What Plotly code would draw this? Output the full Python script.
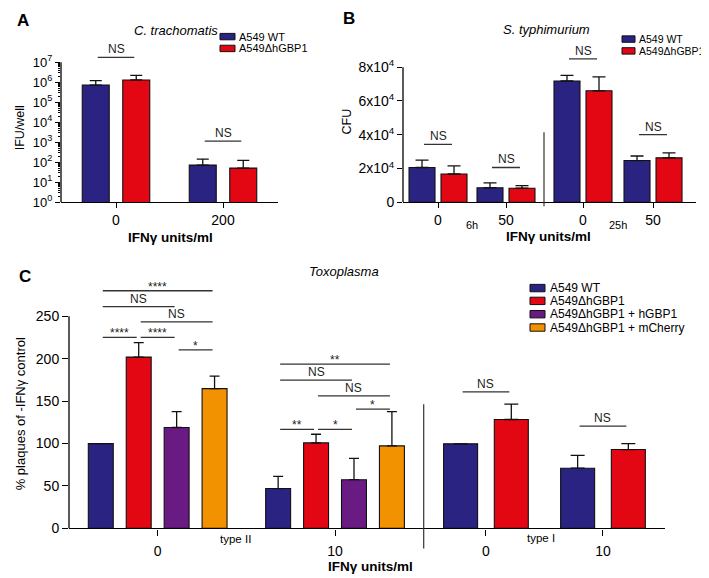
import math
import plotly.graph_objects as go

W, H = 709, 578
FONT = "Liberation Sans, Arial, Helvetica, sans-serif"

# ---------------- data ----------------
series_names = ["A549 WT", "A549ΔhGBP1", "A549ΔhGBP1 + hGBP1", "A549ΔhGBP1 + mCherry"]
series_colors = ["#2B2382", "#E30613", "#6A1A83", "#F39200"]

# Panel A: C. trachomatis (IFU/well, log scale)
A_categories = ["0", "200"]
A_wt = [7.2e5, 72]
A_wt_sem = [4.8e5, 70]
A_ko = [1.3e6, 51]
A_ko_sem = [9.0e5, 74]
A_tickvals = [1, 10, 100, 1e3, 1e4, 1e5, 1e6, 1e7]
A_ticktext = ["10<sup>0</sup>", "10<sup>1</sup>", "10<sup>2</sup>", "10<sup>3</sup>",
              "10<sup>4</sup>", "10<sup>5</sup>", "10<sup>6</sup>", "10<sup>7</sup>"]
# (category index, bar i, bar j, height, label)
A_brackets = [(0, 0, 1, 1.76e7, "NS"), (1, 0, 1, 1.14e3, "NS")]

# Panel B: S. typhimurium (CFU)
B_categories = ["0", "50"]
B_wt_6h = [20600, 8600]
B_wt_6h_sem = [4300, 2900]
B_ko_6h = [16750, 8350]
B_ko_6h_sem = [4850, 1550]
B_wt_25h = [71800, 24700]
B_wt_25h_sem = [3300, 2700]
B_ko_25h = [66000, 26300]
B_ko_25h_sem = [8200, 2900]
B_tickvals = [0, 20000, 40000, 60000, 80000]
B_ticktext = ["0", "2x10<sup>4</sup>", "4x10<sup>4</sup>", "6x10<sup>4</sup>", "8x10<sup>4</sup>"]
B_brackets_6h = [(0, 0, 1, 34300, "NS"), (1, 0, 1, 20600, "NS")]
B_brackets_25h = [(0, 0, 1, 84850, "NS"), (1, 0, 1, 40100, "NS")]

# Panel C: Toxoplasma (% plaques of -IFNγ control)
C_categories = ["0", "10"]
C2_wt = [100, 47]
C2_wt_sem = [0, 14.3]
C2_ko = [202, 100.8]
C2_ko_sem = [17, 10.2]
C2_hgbp1 = [119, 57.4]
C2_hgbp1_sem = [18.7, 25.2]
C2_mcherry = [164.8, 97.3]
C2_mcherry_sem = [14.7, 40.4]
C1_wt = [99.7, 71]
C1_wt_sem = [0, 15]
C1_ko = [128.4, 93]
C1_ko_sem = [18.1, 7]
C_tickvals = [0, 50, 100, 150, 200, 250]
C_brackets_type2 = [
    (0, 0, 3, 280.2, "****"), (0, 0, 2, 261.6, "NS"), (0, 1, 3, 243.5, "NS"),
    (0, 0, 1, 225.2, "****"), (0, 1, 2, 225.2, "****"), (0, 2, 3, 210.5, "*"),
    (1, 0, 3, 193.8, "**"), (1, 0, 2, 174.9, "NS"), (1, 1, 3, 156.3, "NS"),
    (1, 2, 3, 140.7, "*"), (1, 0, 1, 116.7, "**"), (1, 1, 2, 116.7, "*"),
]
C_brackets_type1 = [(0, 0, 1, 160.9, "NS"), (1, 0, 1, 120.6, "NS")]

# ---------------- helpers ----------------
def px_x(p):
    return p / W


def px_y(p):
    return 1 - p / H


def geom(n, cat_px, bar_px, pitch_px):
    offs = []
    for k in range(n):
        c = (k - (n - 1) / 2) * pitch_px
        offs.append((c - bar_px / 2) / cat_px)
    return offs, bar_px / cat_px


fig = go.Figure()


def add_bars(cats, vals_list, sems_list, colors, xa, ya, cat_px, bar_px, pitch_px, cap):
    offs, w = geom(len(vals_list), cat_px, bar_px, pitch_px)
    for k, (vals, sems, col) in enumerate(zip(vals_list, sems_list, colors)):
        fig.add_trace(go.Bar(
            x=cats, y=vals, width=w, offset=offs[k],
            marker=dict(color=col, line=dict(color="#111111", width=1.1)),
            error_y=dict(type="data", array=sems, arrayminus=[0] * len(sems), symmetric=False,
                         color="#111111", thickness=1.3, width=cap),
            xaxis=xa, yaxis=ya, showlegend=False, hoverinfo="skip",
        ))


def add_brackets(brackets, n, xa, ya, cat_px, bar_px, pitch_px, log=False):
    offs, w = geom(n, cat_px, bar_px, pitch_px)
    centers = [o + w / 2 for o in offs]
    shrink = 2.0 / cat_px
    for g, i, j, yv, label in brackets:
        x0 = g + centers[i] + shrink
        x1 = g + centers[j] - shrink
        fig.add_shape(type="line", xref=xa, yref=ya, x0=x0, x1=x1, y0=yv, y1=yv,
                      line=dict(color="#333333", width=1.3))
        ay = math.log10(yv) if log else yv
        star = label.startswith("*")
        fig.add_annotation(xref=xa, yref=ya, x=(x0 + x1) / 2, y=ay, text=label,
                           showarrow=False, yanchor="bottom", xanchor="center",
                           yshift=-5 if star else -1,
                           font=dict(size=12, color="#222222", family=FONT))


def ann_px(text, x, y, size, bold=False, italic=False, angle=0, xanchor="center"):
    if bold:
        text = "<b>" + text + "</b>"
    if italic:
        text = "<i>" + text + "</i>"
    fig.add_annotation(xref="paper", yref="paper", x=px_x(x), y=px_y(y), text=text,
                       showarrow=False, xanchor=xanchor, yanchor="middle", textangle=angle,
                       font=dict(size=size, color="black", family=FONT))


def legend_px(names, colors, x_box, x_text, rows, box_w, box_h, size):
    for name, col, yc in zip(names, colors, rows):
        fig.add_shape(type="rect", xref="paper", yref="paper",
                      x0=px_x(x_box), x1=px_x(x_box + box_w),
                      y0=px_y(yc + box_h / 2), y1=px_y(yc - box_h / 2),
                      fillcolor=col, line=dict(color="#111111", width=1))
        ann_px(name, x_text, yc, size, xanchor="left")


# ---------------- Panel A ----------------
add_bars(A_categories, [A_wt, A_ko], [A_wt_sem, A_ko_sem], series_colors[:2],
         "x", "y", 107, 27, 40.5, 6)
add_brackets(A_brackets, 2, "x", "y", 107, 27, 40.5, log=True)

# ---------------- Panel B ----------------
add_bars(B_categories, [B_wt_6h, B_ko_6h], [B_wt_6h_sem, B_ko_6h_sem], series_colors[:2],
         "x2", "y2", 68, 26, 32, 6.5)
add_bars(B_categories, [B_wt_25h, B_ko_25h], [B_wt_25h_sem, B_ko_25h_sem], series_colors[:2],
         "x3", "y2", 70, 26, 32, 6.5)
add_brackets(B_brackets_6h, 2, "x2", "y2", 68, 26, 32)
add_brackets(B_brackets_25h, 2, "x3", "y2", 70, 26, 32)

# ---------------- Panel C ----------------
add_bars(C_categories, [C2_wt, C2_ko, C2_hgbp1, C2_mcherry],
         [C2_wt_sem, C2_ko_sem, C2_hgbp1_sem, C2_mcherry_sem], series_colors,
         "x4", "y3", 177.7, 25, 38, 5)
add_bars(C_categories, [C1_wt, C1_ko], [C1_wt_sem, C1_ko_sem], series_colors[:2],
         "x5", "y3", 117, 34, 50.7, 7)
add_brackets(C_brackets_type2, 4, "x4", "y3", 177.7, 25, 38)
add_brackets(C_brackets_type1, 2, "x5", "y3", 117, 34, 50.7)

# ---------------- axes ----------------
xcommon = dict(type="category", showline=True, linecolor="black", linewidth=1.3,
               ticks="outside", ticklen=5, tickwidth=1.3, tickcolor="black",
               showgrid=False, zeroline=False, fixedrange=True,
               tickfont=dict(size=14, family=FONT, color="black"))
ycommon = dict(showline=False, ticks="outside", ticklen=5, tickwidth=1.3, tickcolor="black",
               showgrid=False, zeroline=False, fixedrange=True,
               tickfont=dict(size=14, family=FONT, color="black"))

minor_vals = [m * 10 ** k for k in range(7) for m in range(2, 10)]

fig.update_layout(
    width=W, height=H, margin=dict(l=0, r=0, t=0, b=0),
    paper_bgcolor="white", plot_bgcolor="rgba(0,0,0,0)",
    barmode="overlay", showlegend=False, font=dict(family=FONT, color="black"),
    xaxis=dict(xcommon, domain=[px_x(53), px_x(270)], range=[-0.514, 1.514], anchor="y"),
    yaxis=dict(ycommon, type="log", domain=[px_y(197), px_y(36.7)], range=[0, 7.9], anchor="x",
               tickmode="array", tickvals=A_tickvals, ticktext=A_ticktext,
               tickfont=dict(size=13, family=FONT, color="black"),
               minor=dict(ticks="outside", ticklen=2.5, tickcolor="black", tickwidth=1,
                          tickmode="array", tickvals=minor_vals, showgrid=False)),
    xaxis2=dict(xcommon, domain=[px_x(395), px_x(536)], range=[-0.515, 1.559], anchor="y2"),
    xaxis3=dict(xcommon, domain=[px_x(536), px_x(688)], range=[-0.557, 1.614], anchor="y2"),
    yaxis2=dict(ycommon, domain=[px_y(197), px_y(34.3)], range=[0, 95000], anchor="x2",
                tickmode="array", tickvals=B_tickvals, ticktext=B_ticktext),
    xaxis4=dict(xcommon, domain=[px_x(61), px_x(415.7)], range=[-0.5, 1.5], anchor="y3",
                ticklen=6, ticklabelstandoff=4),
    xaxis5=dict(xcommon, domain=[px_x(415.7), px_x(657)], range=[-0.532, 1.53], anchor="y3",
                ticklen=6, ticklabelstandoff=4),
    yaxis3=dict(ycommon, domain=[px_y(527.7), px_y(269.7)], range=[0, 300], anchor="x4",
                tickmode="array", tickvals=C_tickvals, ticklen=6),
)

# manual y-axis lines (end at the top tick, brackets sit above)
fig.add_shape(type="line", xref="x domain", yref="y", x0=0, x1=0, y0=A_tickvals[0], y1=A_tickvals[-1],
              line=dict(color="black", width=1.3))
fig.add_shape(type="line", xref="x2 domain", yref="y2", x0=0, x1=0, y0=B_tickvals[0], y1=B_tickvals[-1],
              line=dict(color="black", width=1.3))
fig.add_shape(type="line", xref="x4 domain", yref="y3", x0=0, x1=0, y0=C_tickvals[0], y1=C_tickvals[-1],
              line=dict(color="black", width=1.3))
# dividers
fig.add_shape(type="line", xref="x3 domain", yref="paper", x0=0, x1=0, y0=px_y(201), y1=px_y(126),
              line=dict(color="#333333", width=1.2))
fig.add_shape(type="line", xref="x5 domain", yref="paper", x0=0, x1=0, y0=px_y(548), y1=px_y(401.7),
              line=dict(color="#333333", width=1.2))

# ---------------- texts ----------------
ann_px("A", 15, 12.5, 17, bold=True)
ann_px("B", 341, 11, 17, bold=True)
ann_px("C", 17, 272, 17, bold=True)
ann_px("C. trachomatis", 168, 22.5, 13, italic=True)
ann_px("S. typhimurium", 538, 22, 13, italic=True)
ann_px("Toxoplasma", 336, 267, 13, italic=True)

ann_px("IFNγ units/ml", 162, 233, 13.5, bold=True)
ann_px("IFNγ units/ml", 540.5, 232, 13.5, bold=True)
ann_px("IFNγ units/ml", 362, 566, 13.5, bold=True)
ann_px("IFU/well", 12, 122, 12.5, angle=-90)
ann_px("CFU", 339, 115, 12.5, angle=-90)
ann_px("% plaques of -IFNγ control", 12, 412, 13, angle=-90)

fig.add_annotation(xref="x2", yref="paper", x=0.5, y=px_y(220), text="6h", showarrow=False,
                   font=dict(size=11, family=FONT, color="black"))
fig.add_annotation(xref="x3", yref="paper", x=0.5, y=px_y(220), text="25h", showarrow=False,
                   font=dict(size=11, family=FONT, color="black"))
fig.add_annotation(xref="x4", yref="paper", x=0.44, y=px_y(547), text="type II", showarrow=False,
                   font=dict(size=11.5, family=FONT, color="black"))
fig.add_annotation(xref="x5", yref="paper", x=0.47, y=px_y(546), text="type I", showarrow=False,
                   font=dict(size=11.5, family=FONT, color="black"))

# ---------------- legends ----------------
legend_px(series_names[:2], series_colors[:2], 212, 229, [29, 41], 15, 6.5, 11)
legend_px(series_names[:2], series_colors[:2], 614, 629, [31.5, 43.5], 13, 6.5, 10.5)
legend_px(series_names, series_colors, 522, 540, [284, 297, 310.5, 324], 15, 7.5, 12)

fig.write_html("out.html")
